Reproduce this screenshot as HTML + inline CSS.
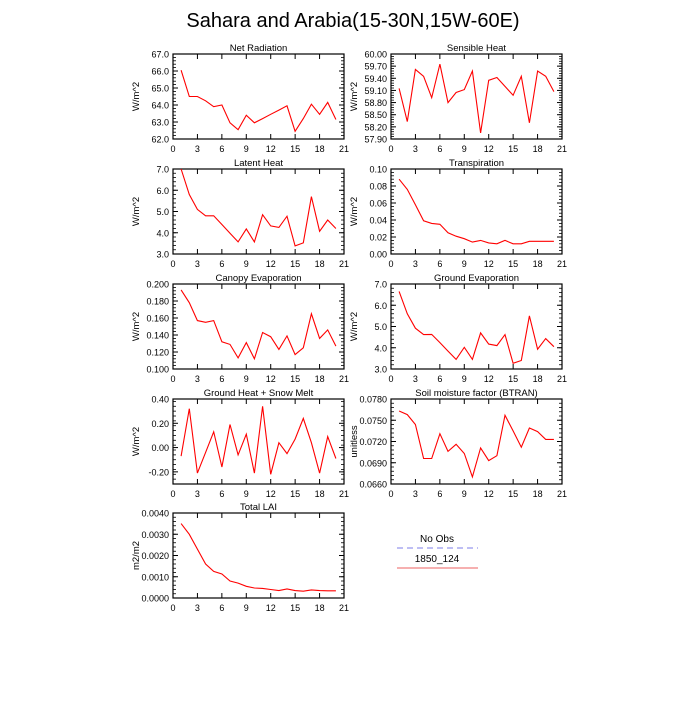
<!DOCTYPE html>
<html><head><meta charset="utf-8"><style>
body{margin:0;background:#fff;width:700px;height:700px;overflow:hidden}
svg{font-family:"Liberation Sans",sans-serif}
</style></head><body>
<svg id="c" width="700" height="700" xmlns="http://www.w3.org/2000/svg">
<text x="353" y="27" font-size="20" text-anchor="middle">Sahara and Arabia(15-30N,15W-60E)</text>
<g>
<text x="437" y="542" font-size="10" text-anchor="middle">No Obs</text>
<line x1="397" y1="548" x2="478" y2="548" stroke="#a8a8f0" stroke-width="1.5" stroke-dasharray="6,4"/>
<text x="437" y="562" font-size="10" text-anchor="middle">1850_124</text>
<line x1="397" y1="568" x2="478" y2="568" stroke="#f08080" stroke-width="1.2"/>
</g>
</svg>
<script>
const xTicks=[0,3,6,9,12,15,18,21];
const years=[1,2,3,4,5,6,7,8,9,10,11,12,13,14,15,16,17,18,19,20];
const netRad=[66.05,64.5,64.5,64.25,63.9,64.0,62.95,62.55,63.4,62.95,63.2,63.45,63.7,63.95,62.45,63.2,64.05,63.45,64.15,63.15];
const sensHeat=[59.15,58.33,59.62,59.45,58.92,59.75,58.8,59.05,59.12,59.58,58.05,59.35,59.42,59.2,58.98,59.45,58.3,59.58,59.45,59.07];
const latHeat=[7.0,5.8,5.1,4.8,4.8,4.39,3.98,3.57,4.18,3.57,4.85,4.32,4.25,4.78,3.38,3.52,5.7,4.07,4.6,4.2];
const transp=[0.088,0.076,0.058,0.039,0.036,0.035,0.025,0.021,0.018,0.014,0.016,0.013,0.012,0.016,0.012,0.012,0.015,0.015,0.015,0.015];
const canopy=[0.193,0.178,0.157,0.155,0.157,0.132,0.129,0.113,0.131,0.112,0.143,0.138,0.123,0.139,0.117,0.125,0.165,0.136,0.146,0.127];
const gEvap=[6.65,5.6,4.92,4.62,4.63,4.24,3.84,3.45,4.02,3.45,4.7,4.17,4.1,4.62,3.27,3.4,5.5,3.93,4.43,4.05];
const gHeat=[-0.07,0.32,-0.21,-0.04,0.13,-0.16,0.19,-0.06,0.11,-0.21,0.34,-0.22,0.04,-0.05,0.07,0.24,0.04,-0.21,0.09,-0.09];
const btran=[0.0763,0.0758,0.0744,0.0696,0.0696,0.0731,0.0706,0.0716,0.0703,0.0670,0.0711,0.0693,0.0700,0.0757,0.0735,0.0712,0.0739,0.0734,0.0723,0.0723];
const lai=[0.0035,0.0030,0.0023,0.0016,0.00125,0.00113,0.0008,0.0007,0.00055,0.00047,0.00045,0.0004,0.00035,0.00043,0.00035,0.00032,0.00038,0.00035,0.00034,0.00034];
const ticksNet=[62,63,64,65,66,67];
const ticksSens=[57.9,58.2,58.5,58.8,59.1,59.4,59.7,60.0];
const ticksLat=[3,4,5,6,7];
const ticksTr=[0,0.02,0.04,0.06,0.08,0.10];
const ticksCan=[0.1,0.12,0.14,0.16,0.18,0.2];
const ticksGE=[3,4,5,6,7];
const ticksGH=[-0.2,0,0.2,0.4];
const ticksBt=[0.066,0.069,0.072,0.075,0.078];
const ticksLai=[0,0.001,0.002,0.003,0.004];
const panels=[
 {n:'net-radiation',t:'Net Radiation',u:'W/m^2',d:netRad,tk:ticksNet,mn:62,mx:67,dec:1,c:0,r:0},
 {n:'sensible-heat',t:'Sensible Heat',u:'W/m^2',d:sensHeat,tk:ticksSens,mn:57.9,mx:60,dec:2,c:1,r:0},
 {n:'latent-heat',t:'Latent Heat',u:'W/m^2',d:latHeat,tk:ticksLat,mn:3,mx:7,dec:1,c:0,r:1},
 {n:'transpiration',t:'Transpiration',u:'W/m^2',d:transp,tk:ticksTr,mn:0,mx:0.1,dec:2,c:1,r:1},
 {n:'canopy-evaporation',t:'Canopy Evaporation',u:'W/m^2',d:canopy,tk:ticksCan,mn:0.1,mx:0.2,dec:3,c:0,r:2},
 {n:'ground-evaporation',t:'Ground Evaporation',u:'W/m^2',d:gEvap,tk:ticksGE,mn:3,mx:7,dec:1,c:1,r:2},
 {n:'ground-heat',t:'Ground Heat + Snow Melt',u:'W/m^2',d:gHeat,tk:ticksGH,mn:-0.3,mx:0.4,dec:2,c:0,r:3},
 {n:'btran',t:'Soil moisture factor (BTRAN)',u:'unitless',d:btran,tk:ticksBt,mn:0.066,mx:0.078,dec:4,c:1,r:3},
 {n:'total-lai',t:'Total LAI',u:'m2/m2',d:lai,tk:ticksLai,mn:0,mx:0.004,dec:4,c:0,r:4}
];
const NS='http://www.w3.org/2000/svg';
const svg=document.getElementById('c');
function mk(tag,at,parent){const e=document.createElementNS(NS,tag);for(const k in at)e.setAttribute(k,at[k]);parent.appendChild(e);return e;}
const colX=[173,391],rowY=[54,169,284,399,513],W=171,H=85;
panels.forEach(p=>{
 const x0=colX[p.c],y0=rowY[p.r];
 const g=mk('g',{},svg);
 
 
 const sx=v=>x0+v/21*W, sy=v=>y0+H-(v-p.mn)/(p.mx-p.mn)*H;
 const t=mk('text',{x:x0+W/2,y:y0-3,'font-size':9.5,'text-anchor':'middle'},g);t.textContent=p.t;
 
 
 const yl=mk('text',{x:0,y:0,'font-size':9.5,'text-anchor':'middle',transform:`translate(${x0-34},${y0+H/2}) rotate(-90)`},g);yl.textContent=p.u;
 
 
 xTicks.forEach(v=>{
  const X=sx(v);
  mk('line',{x1:X,y1:y0+H,x2:X,y2:y0+H-5,stroke:'#000','stroke-width':1},g);
  mk('line',{x1:X,y1:y0,x2:X,y2:y0+5,stroke:'#000','stroke-width':1},g);
  const l=mk('text',{x:X,y:y0+H+13,'font-size':9,'text-anchor':'middle'},g);l.textContent=v;
  
  
 });
 const step=p.tk[1]-p.tk[0];
 for(let v=p.mn;v<=p.mx+1e-9;v+=step/5){const Y=sy(v);
  mk('line',{x1:x0,y1:Y,x2:x0+3,y2:Y,stroke:'#000','stroke-width':0.8},g);
  mk('line',{x1:x0+W,y1:Y,x2:x0+W-3,y2:Y,stroke:'#000','stroke-width':0.8},g);}
 p.tk.forEach(v=>{const Y=sy(v);
  mk('line',{x1:x0,y1:Y,x2:x0+5,y2:Y,stroke:'#000','stroke-width':1},g);
  mk('line',{x1:x0+W,y1:Y,x2:x0+W-5,y2:Y,stroke:'#000','stroke-width':1},g);
  const l=mk('text',{x:x0-4,y:Y+3.5,'font-size':9,'text-anchor':'end'},g);l.textContent=v.toFixed(p.dec);
  
  
 });
 const b=mk('rect',{x:x0,y:y0,width:W,height:H,fill:'none',stroke:'#000','stroke-width':1.2},g);
 
 
 const pts=p.d.map((v,i)=>sx(years[i]).toFixed(1)+','+sy(v).toFixed(1)).join(' ');
 const pl=mk('polyline',{points:pts,fill:'none',stroke:'#f00','stroke-width':1.1},g);
 
 
});
</script>
</body></html>
